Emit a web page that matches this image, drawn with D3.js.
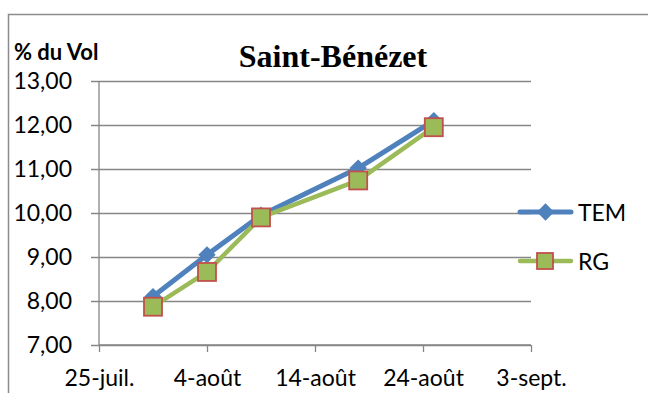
<!DOCTYPE html>
<html>
<head>
<meta charset="utf-8">
<script src="https://cdn.jsdelivr.net/npm/d3@7"></script>
<style>
  html, body { margin: 0; padding: 0; background: #fff; }
  svg { display: block; }
</style>
</head>
<body>
<svg id="chart" width="648" height="393"></svg>
<script>
// Sampling dates and series (% du volume)
const dates = ["2013-07-30", "2013-08-04", "2013-08-09", "2013-08-18", "2013-08-25"];
const temValues = [8.10, 9.05, 9.95, 11.02, 12.10];
const rgValues = [7.87, 8.66, 9.90, 10.74, 11.95];

const seriesNames = ["TEM", "RG"];
const xTickDates = ["2013-07-25", "2013-08-04", "2013-08-14", "2013-08-24", "2013-09-03"];
const xTickLabels = ["25-juil.", "4-août", "14-août", "24-août", "3-sept."];
const yTicks = [7, 8, 9, 10, 11, 12, 13];

const parse = d3.timeParse("%Y-%m-%d");
const svg = d3.select("#chart");

const plot = { left: 99, right: 531, top: 81, bottom: 345 };

const x = d3.scaleTime()
  .domain([parse(xTickDates[0]), parse(xTickDates[xTickDates.length - 1])])
  .range([plot.left, plot.right]);
const y = d3.scaleLinear().domain([7, 13]).range([plot.bottom, plot.top]);

const gridColor = "#868686";
const fontFamily = "Lato, 'Open Sans', sans-serif";

// chart frame
svg.append("rect")
  .attr("x", 8.5).attr("y", 14.5)
  .attr("width", 660).attr("height", 400)
  .attr("fill", "none").attr("stroke", "#8c8c8c").attr("stroke-width", 1.5);

// horizontal gridlines + left ticks via a y axis
const yAxis = d3.axisLeft(y)
  .tickValues(yTicks)
  .tickSize(-(plot.right - plot.left))
  .tickFormat("");
const gy = svg.append("g").attr("transform", `translate(${plot.left},0)`).call(yAxis);
gy.select(".domain").remove();
gy.selectAll(".tick line").attr("stroke", gridColor).attr("stroke-width", 1.3)
  .attr("x1", -8);

// y-axis line
svg.append("line")
  .attr("x1", plot.left).attr("x2", plot.left)
  .attr("y1", plot.top).attr("y2", plot.bottom)
  .attr("stroke", gridColor).attr("stroke-width", 1.3);

// y tick labels
svg.append("g").selectAll("text").data(yTicks).join("text")
  .attr("x", 72).attr("y", d => y(d) + 8)
  .attr("text-anchor", "end")
  .attr("font-family", fontFamily).attr("font-size", 23)
  .attr("fill", "#000")
  .text(d => d3.format(".2f")(d).replace(".", ","));

// x axis
const xAxis = d3.axisBottom(x)
  .tickValues(xTickDates.map(parse))
  .tickSize(7)
  .tickFormat((d, i) => xTickLabels[i]);
const gx = svg.append("g").attr("transform", `translate(0,${plot.bottom})`).call(xAxis);
gx.select(".domain").attr("stroke", gridColor).attr("stroke-width", 1.3)
  .attr("d", `M${plot.left},0H${plot.right}`);
gx.selectAll(".tick line").attr("stroke", gridColor).attr("stroke-width", 1.3);
gx.selectAll(".tick text")
  .attr("y", 41).attr("dy", null)
  .attr("font-family", fontFamily).attr("font-size", 23).attr("fill", "#000");

// titles
svg.append("text")
  .attr("x", 333).attr("y", 67)
  .attr("text-anchor", "middle")
  .attr("font-family", "'Liberation Serif', 'Times New Roman', serif")
  .attr("font-weight", "bold").attr("font-size", 32)
  .text("Saint-Bénézet");
svg.append("text")
  .attr("x", 14).attr("y", 60)
  .attr("font-family", fontFamily).attr("font-weight", "bold").attr("font-size", 22)
  .text("% du Vol");

// series
const temData = dates.map((d, i) => ({ date: parse(d), value: temValues[i] }));
const rgData = dates.map((d, i) => ({ date: parse(d), value: rgValues[i] }));
const line = d3.line().x(d => x(d.date)).y(d => y(d.value));

const blue = "#4F81BD", green = "#9BBB59", red = "#C0504D";

svg.append("path").datum(temData).attr("d", line)
  .attr("fill", "none").attr("stroke", blue).attr("stroke-width", 5)
  .attr("stroke-linejoin", "round");
svg.append("g").selectAll("path").data(temData).join("path")
  .attr("transform", d => `translate(${x(d.date)},${y(d.value)}) rotate(45)`)
  .attr("d", d3.symbol().type(d3.symbolSquare).size(150))
  .attr("fill", blue);

svg.append("path").datum(rgData).attr("d", line)
  .attr("fill", "none").attr("stroke", green).attr("stroke-width", 4.5)
  .attr("stroke-linejoin", "round");
svg.append("g").selectAll("rect").data(rgData).join("rect")
  .attr("x", d => x(d.date) - 9).attr("y", d => y(d.value) - 9)
  .attr("width", 18).attr("height", 18)
  .attr("fill", green).attr("stroke", red).attr("stroke-width", 1.8);

// legend
const legend = svg.append("g");
const legendY = [212, 261];
const legendColors = [blue, green];
legend.selectAll("line").data(seriesNames).join("line")
  .attr("x1", 520).attr("x2", 571)
  .attr("y1", (d, i) => legendY[i]).attr("y2", (d, i) => legendY[i])
  .attr("stroke", (d, i) => legendColors[i])
  .attr("stroke-width", (d, i) => i === 0 ? 5 : 4.5)
  .attr("stroke-linecap", "round");
legend.append("path")
  .attr("transform", `translate(545.5,${legendY[0]}) rotate(45)`)
  .attr("d", d3.symbol().type(d3.symbolSquare).size(150))
  .attr("fill", blue);
legend.append("rect")
  .attr("x", 537).attr("y", legendY[1] - 8).attr("width", 16).attr("height", 16)
  .attr("fill", green).attr("stroke", red).attr("stroke-width", 1.8);
legend.selectAll("text").data(seriesNames).join("text")
  .attr("x", 578).attr("y", (d, i) => legendY[i] + 9)
  .attr("font-family", fontFamily).attr("font-size", 23)
  .text(d => d);
</script>
</body>
</html>
